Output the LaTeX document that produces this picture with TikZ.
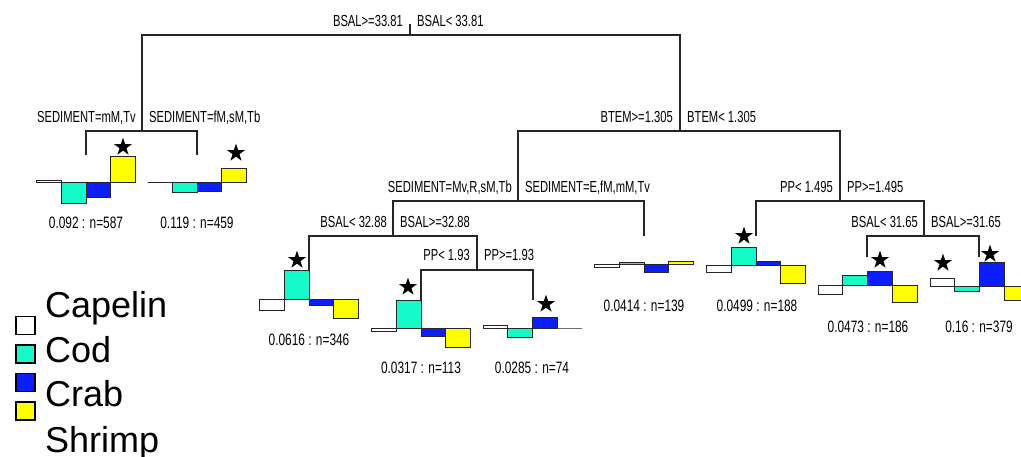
\documentclass[tikz,border=0pt]{standalone}
\usepackage{fontspec}
\setmainfont{Liberation Sans}
\newfontfamily\splitfont[FakeStretch=0.7]{Liberation Sans}
\newfontfamily\leaffont[FakeStretch=0.72]{Liberation Sans}
\usetikzlibrary{shapes.geometric}

\definecolor{capelin}{RGB}{255,255,255}
\definecolor{cod}{RGB}{20,250,200}
\definecolor{crab}{RGB}{10,30,255}
\definecolor{shrimp}{RGB}{255,255,0}

\tikzset{
  branch/.style={draw=black!85,line width=1.1pt},
  bar/.style={draw=black!85,line width=0.9pt},
  cut/.style={font=\splitfont\fontsize{16}{19}\selectfont,inner sep=0pt},
  leaflab/.style={font=\leaffont\fontsize{16.5}{19}\selectfont,inner sep=0pt},
  sig/.style={star,star points=5,star point ratio=2.6,fill=black,inner sep=0pt,minimum size=19pt},
  key/.style={draw=black,line width=1.4pt,minimum width=19pt,minimum height=18pt,inner sep=0pt},
  keylab/.style={font=\fontsize{36}{40}\selectfont,inner sep=0pt,anchor=base west}
}

% one leaf: left x, base line, tops of capelin, cod, crab, shrimp
\newcommand{\leafbars}[6]{%
  \draw[bar,fill=capelin] (#1,#2) rectangle ({#1+24.75},#3);
  \draw[bar,fill=cod] ({#1+24.75},#2) rectangle ({#1+49.5},#4);
  \draw[bar,fill=crab] ({#1+49.5},#2) rectangle ({#1+74.25},#5);
  \draw[bar,fill=shrimp] ({#1+74.25},#2) rectangle ({#1+99},#6);
}

\begin{document}
\begin{tikzpicture}[x=1pt,y=-1pt]
  \fill[white] (0,0) rectangle (1021,456);
  \clip (0,0) rectangle (1021,456);

  % splits
  \coordinate (top) at (410,24);
  \coordinate (root) at (410,35);
  \coordinate (sedA) at (142,131);
  \coordinate (btem) at (680,131);
  \coordinate (sedB) at (518,201);
  \coordinate (ppA) at (840,201);
  \coordinate (bsalA) at (393,236);
  \coordinate (ppB) at (477,270);
  \coordinate (bsalB) at (924,236);
  % leaves
  \coordinate (leaf1) at (86,155);
  \coordinate (leaf2) at (197,155);
  \coordinate (leaf3) at (309,270);
  \coordinate (leaf4) at (421,300);
  \coordinate (leaf5) at (533,300);
  \coordinate (leaf6) at (644,236);
  \coordinate (leaf7) at (756,236);
  \coordinate (leaf8) at (867,257);
  \coordinate (leaf9) at (979,257);

  \draw[branch] (top) -- (root);
  \draw[branch] (root) -| (sedA);
  \draw[branch] (root) -| (btem);
  \draw[branch] (sedA) -| (leaf1);
  \draw[branch] (sedA) -| (leaf2);
  \draw[branch] (btem) -| (sedB);
  \draw[branch] (btem) -| (ppA);
  \draw[branch] (sedB) -| (bsalA);
  \draw[branch] (sedB) -| (leaf6);
  \draw[branch] (bsalA) -| (leaf3);
  \draw[branch] (bsalA) -| (ppB);
  \draw[branch] (ppB) -| (leaf4);
  \draw[branch] (ppB) -| (leaf5);
  \draw[branch] (ppA) -| (leaf7);
  \draw[branch] (ppA) -| (bsalB);
  \draw[branch] (bsalB) -| (leaf8);
  \draw[branch] (bsalB) -| (leaf9);

  % split labels
  \node[cut,anchor=base east,xshift=-7pt,yshift=9pt] (rootL) at (root) {BSAL>=33.81};
  \node[cut,anchor=base west,xshift=7pt,yshift=9pt] (rootR) at (root) {BSAL< 33.81};
  \node[cut,anchor=base east,xshift=-6pt,yshift=9pt] (sedAL) at (sedA) {SEDIMENT=mM,Tv};
  \node[cut,anchor=base west,xshift=7pt,yshift=9pt] (sedAR) at (sedA) {SEDIMENT=fM,sM,Tb};
  \node[cut,anchor=base east,xshift=-7pt,yshift=9pt] (btemL) at (btem) {BTEM>=1.305};
  \node[cut,anchor=base west,xshift=7pt,yshift=9pt] (btemR) at (btem) {BTEM< 1.305};
  \node[cut,anchor=base east,xshift=-6pt,yshift=9pt] (sedBL) at (sedB) {SEDIMENT=Mv,R,sM,Tb};
  \node[cut,anchor=base west,xshift=7pt,yshift=9pt] (sedBR) at (sedB) {SEDIMENT=E,fM,mM,Tv};
  \node[cut,anchor=base east,xshift=-7pt,yshift=9pt] (ppAL) at (ppA) {PP< 1.495};
  \node[cut,anchor=base west,xshift=7pt,yshift=9pt] (ppAR) at (ppA) {PP>=1.495};
  \node[cut,anchor=base east,xshift=-6pt,yshift=9pt] (bsalAL) at (bsalA) {BSAL< 32.88};
  \node[cut,anchor=base west,xshift=7pt,yshift=9pt] (bsalAR) at (bsalA) {BSAL>=32.88};
  \node[cut,anchor=base east,xshift=-7pt,yshift=9.5pt] (ppBL) at (ppB) {PP< 1.93};
  \node[cut,anchor=base west,xshift=7pt,yshift=9.5pt] (ppBR) at (ppB) {PP>=1.93};
  \node[cut,anchor=base east,xshift=-6pt,yshift=9pt] (bsalBL) at (bsalB) {BSAL< 31.65};
  \node[cut,anchor=base west,xshift=7pt,yshift=9pt] (bsalBR) at (bsalB) {BSAL>=31.65};

  % leaf bars
  \leafbars{36.5}{182.5}{180.5}{203}{197}{156}
  \leafbars{147.5}{182.5}{182.5}{192}{191}{168}
  \leafbars{259.5}{299}{310}{270}{305}{318}
  \leafbars{371.5}{328}{331}{300}{336}{347}
  \leafbars{483}{328}{325}{337}{317}{328}
  \leafbars{594.5}{264}{267}{262}{272}{261}
  \leafbars{706.5}{265}{272}{247}{261}{283}
  \leafbars{818}{285}{294}{275}{271}{302}
  \leafbars{930}{286}{278}{291}{262}{300}

  % significance stars
  \node[sig] (st1) at (123,147) {};
  \node[sig] (st2) at (236,153) {};
  \node[sig] (st3) at (297,260) {};
  \node[sig] (st4) at (408,287) {};
  \node[sig] (st5) at (546,304) {};
  \node[sig] (st7) at (744,236) {};
  \node[sig] (st8) at (880,260) {};
  \node[sig] (st9a) at (943,263) {};
  \node[sig] (st9b) at (990,254) {};

  % leaf labels
  \node[leaflab] (lab1) at (86,223) {0.092 : n=587};
  \node[leaflab] (lab2) at (197,223) {0.119 : n=459};
  \node[leaflab] (lab3) at (309,340) {0.0616 : n=346};
  \node[leaflab] (lab4) at (421,368) {0.0317 : n=113};
  \node[leaflab] (lab5) at (532,368) {0.0285 : n=74};
  \node[leaflab] (lab6) at (644,306) {0.0414 : n=139};
  \node[leaflab] (lab7) at (757,306) {0.0499 : n=188};
  \node[leaflab] (lab8) at (868,327) {0.0473 : n=186};
  \node[leaflab] (lab9) at (979,327) {0.16 : n=379};

  % legend
  \node[key,fill=capelin] (kcap) at (25.5,325.5) {};
  \node[key,fill=cod] (kcod) at (25.5,354) {};
  \node[key,fill=crab] (kcrab) at (25.5,382.5) {};
  \node[key,fill=shrimp] (kshr) at (25.5,411) {};
  \node[keylab] (tcap) at (45,317) {Capelin};
  \node[keylab] (tcod) at (45,362) {Cod};
  \node[keylab] (tcrab) at (45,406) {Crab};
  \node[keylab] (tshr) at (45,452) {Shrimp};
\end{tikzpicture}
\end{document}
